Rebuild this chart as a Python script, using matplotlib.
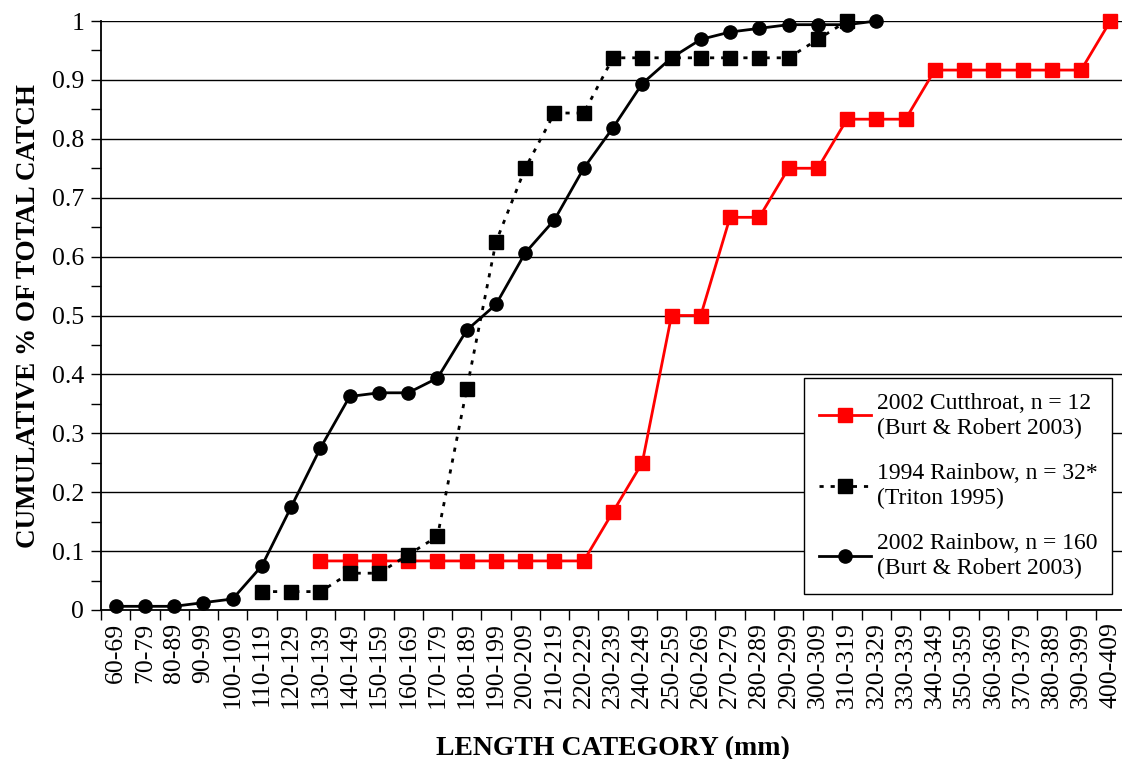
import matplotlib
matplotlib.use("Agg")
import matplotlib.pyplot as plt
import numpy as np

categories = [f"{a}-{a+9}" for a in range(60, 410, 10)]

# 2002 Cutthroat (starts at 130-139)
cut_start = "130-139"
cutthroat = [0.0833, 0.0833, 0.0833, 0.0833, 0.0833, 0.0833, 0.0833, 0.0833, 0.0833, 0.0833,
             0.1667, 0.25, 0.5, 0.5, 0.6667, 0.6667, 0.75, 0.75, 0.8333, 0.8333, 0.8333,
             0.9167, 0.9167, 0.9167, 0.9167, 0.9167, 0.9167, 1.0]

# 1994 Rainbow (starts at 110-119)
rb94_start = "110-119"
rainbow94 = [0.03125, 0.03125, 0.03125, 0.0625, 0.0625, 0.09375, 0.125, 0.375, 0.625, 0.75,
             0.84375, 0.84375, 0.9375, 0.9375, 0.9375, 0.9375, 0.9375, 0.9375, 0.9375,
             0.96875, 1.0]

# 2002 Rainbow (starts at 60-69)
rb02_start = "60-69"
rainbow02 = [0.00625, 0.00625, 0.00625, 0.0125, 0.01875, 0.075, 0.175, 0.275, 0.3625,
             0.36875, 0.36875, 0.39375, 0.475, 0.51875, 0.60625, 0.6625, 0.75, 0.81875,
             0.89375, 0.9375, 0.96875, 0.98125, 0.9875, 0.99375, 0.99375, 0.99375, 1.0]

labels = ["2002 Cutthroat, n = 12\n(Burt & Robert 2003)",
          "1994 Rainbow, n = 32*\n(Triton 1995)",
          "2002 Rainbow, n = 160\n(Burt & Robert 2003)"]

plt.rcParams['font.family'] = ['Liberation Serif', 'DejaVu Serif']

W, H = 1122, 759
fig = plt.figure(figsize=(W / 100, H / 100), dpi=100)
left, right, bottom, top = 101, 1125, 610, 21
ax = fig.add_axes([left / W, 1 - bottom / H, (right - left) / W, (bottom - top) / H])

n = len(categories)
x = np.arange(n)

def xs(start, vals):
    i0 = categories.index(start)
    return x[i0:i0 + len(vals)]

ax.plot(xs(cut_start, cutthroat), cutthroat, color='#FF0000', lw=2, marker='s', ms=9.5,
        mec='#FF0000', mfc='#FF0000', label=labels[0], clip_on=False, zorder=3)
ax.plot(xs(rb94_start, rainbow94), rainbow94, color='black', lw=2, ls=(0, (1.5, 2.5)), marker='s',
        ms=9.5, mfc='black', mec='black', label=labels[1], clip_on=False, zorder=4)
ax.plot(xs(rb02_start, rainbow02), rainbow02, color='black', lw=2, marker='o', ms=9.5,
        mfc='black', mec='black', label=labels[2], clip_on=False, zorder=5)

ax.set_xlim(-0.5, n - 0.5)
ax.set_ylim(0, 1)
ax.set_xticks(np.arange(n + 1) - 0.5)
ax.set_xticklabels([])
ax.set_xticks(x, minor=True)
ax.set_xticklabels(categories, minor=True, rotation=90, fontsize=18.5)
ax.tick_params(axis='x', which='minor', length=0, pad=9)
ax.tick_params(axis='x', which='major', length=7, direction='out', width=1)

ax.set_yticks(np.arange(0, 1.01, 0.1))
ax.set_yticklabels(["0", "0.1", "0.2", "0.3", "0.4", "0.5", "0.6", "0.7", "0.8", "0.9", "1"], fontsize=18.5)
ax.set_yticks(np.arange(0.05, 1.0, 0.1), minor=True)
ax.tick_params(axis='y', which='both', length=7, direction='out', width=1, pad=5)
ax.grid(axis='y', which='major', color='black', lw=1)
ax.set_axisbelow(True)

for s in ['top', 'right']:
    ax.spines[s].set_visible(False)
for s in ['left', 'bottom']:
    ax.spines[s].set_linewidth(1.3)

ax.set_xlabel("LENGTH CATEGORY (mm)", fontsize=20, fontweight='bold', labelpad=20)
ax.set_ylabel("CUMULATIVE % OF TOTAL CATCH", fontsize=19.5, fontweight='bold', labelpad=8)

leg = ax.legend(loc='lower right', bbox_to_anchor=((1112 - left) / (right - left), (610 - 594) / (bottom - top)),
                fontsize=17, frameon=True, fancybox=False, edgecolor='black', framealpha=1,
                handlelength=2.2, labelspacing=1.02, borderpad=0.62, handletextpad=0.25,
                borderaxespad=0)
leg.get_frame().set_linewidth(1)
for t in leg.get_texts():
    t.set_linespacing(1.25)

fig.savefig("out.png", dpi=100)
